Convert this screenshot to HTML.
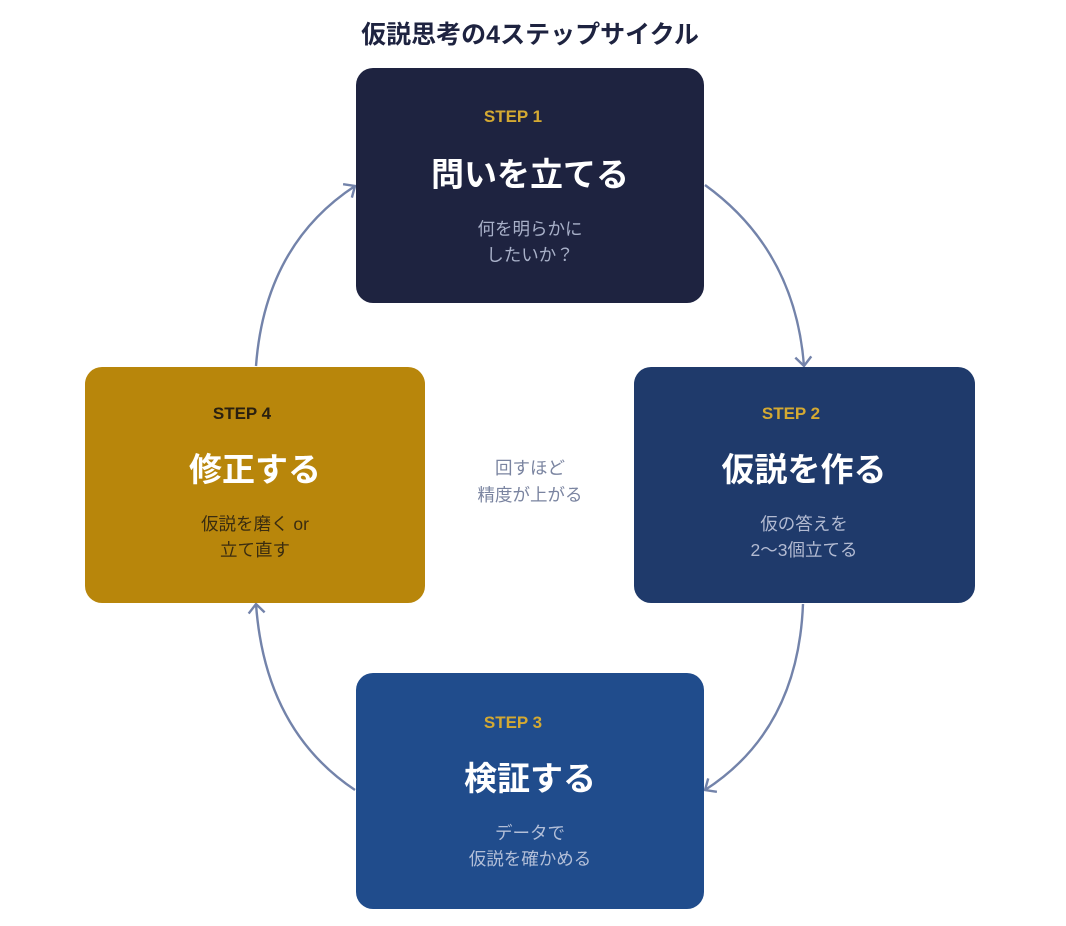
<!DOCTYPE html>
<html><head><meta charset="utf-8"><style>
body{margin:0;background:#fff;}
svg text{font-family:"Liberation Sans","Noto Sans CJK JP",sans-serif;}
</style></head><body>
<svg width="1066" height="921" viewBox="0 0 1066 921" xmlns="http://www.w3.org/2000/svg">
<defs><marker id="a" markerWidth="20" markerHeight="20" refX="10" refY="10" orient="auto" markerUnits="userSpaceOnUse"><path d="M1,2 L10,10 L1,18" fill="none" stroke="#7383aa" stroke-width="2.4"/></marker></defs>
<text x="530" y="43" text-anchor="middle" font-size="25" font-weight="bold" fill="#1e2340">仮説思考の4ステップサイクル</text>
<g fill="none" stroke="#7383aa" stroke-width="2.4">
<path d="M705,185 Q795,250 804,366" marker-end="url(#a)"/>
<path d="M803,604 Q798,730 705,790" marker-end="url(#a)"/>
<path d="M355,790 Q265,730 256,604" marker-end="url(#a)"/>
<path d="M256,366 Q265,245 355,186" marker-end="url(#a)"/>
</g>
<rect x="356" y="68" width="348" height="235" rx="17" fill="#1e2340"/>
<rect x="634" y="367" width="341" height="236" rx="17" fill="#1f3a6b"/>
<rect x="356" y="673" width="348" height="236" rx="17" fill="#204c8c"/>
<rect x="85" y="367" width="340" height="236" rx="17" fill="#b8860b"/>
<g text-anchor="middle">
<text x="513" y="122" font-size="17" font-weight="bold" fill="#d4a932">STEP 1</text>
<text x="530" y="186" font-size="33" font-weight="bold" fill="#fff">問いを立てる</text>
<text x="530" y="235" font-size="17.5" fill="#a8b0c8">何を明らかに</text>
<text x="530" y="261" font-size="17.5" fill="#a8b0c8">したいか？</text>
<text x="791" y="419" font-size="17" font-weight="bold" fill="#d4a932">STEP 2</text>
<text x="804" y="481" font-size="33" font-weight="bold" fill="#fff">仮説を作る</text>
<text x="804" y="530" font-size="17.5" fill="#b3bbd2">仮の答えを</text>
<text x="804" y="556" font-size="17.5" fill="#b3bbd2">2〜3個立てる</text>
<text x="513" y="728" font-size="17" font-weight="bold" fill="#d4a932">STEP 3</text>
<text x="530" y="790" font-size="33" font-weight="bold" fill="#fff">検証する</text>
<text x="530" y="839" font-size="17.5" fill="#b3bfd8">データで</text>
<text x="530" y="865" font-size="17.5" fill="#b3bfd8">仮説を確かめる</text>
<text x="242" y="419" font-size="17" font-weight="bold" fill="#2a2010">STEP 4</text>
<text x="255" y="481" font-size="33" font-weight="bold" fill="#fff">修正する</text>
<text x="255" y="530" font-size="17.5" fill="#3a2c10">仮説を磨く or</text>
<text x="255" y="556" font-size="17.5" fill="#3a2c10">立て直す</text>
<text x="530" y="474" font-size="17.5" fill="#7a84a0">回すほど</text>
<text x="530" y="501" font-size="17.5" fill="#7a84a0">精度が上がる</text>
</g>
</svg>
</body></html>
